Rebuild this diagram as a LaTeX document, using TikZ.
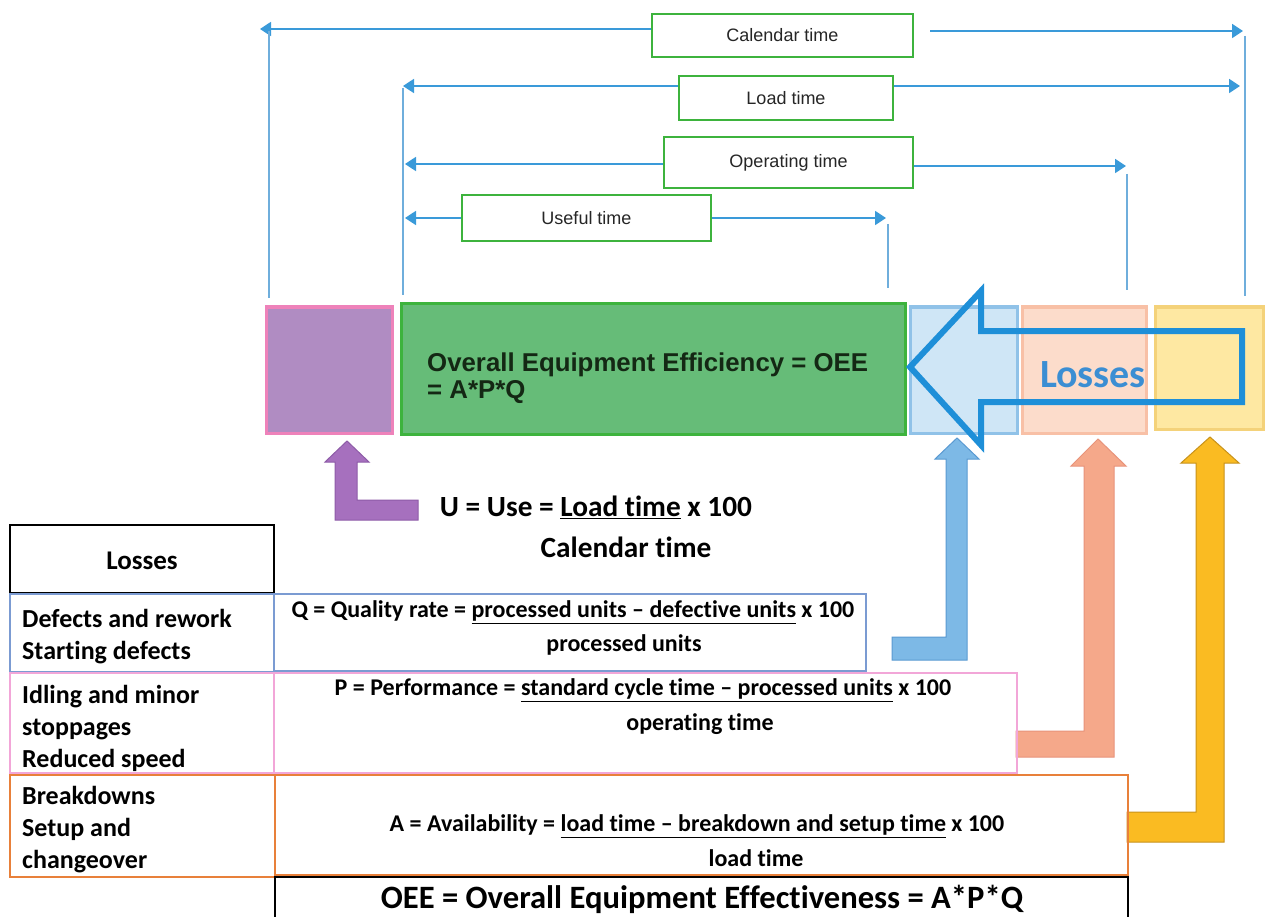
\documentclass[tikz,border=0pt]{standalone}
\usepackage{fontspec}
\setmainfont{Carlito}[Ligatures={NoCommon}]
\newfontfamily\arialf{Liberation Sans}
\usetikzlibrary{arrows.meta}
\definecolor{spanblue}{HTML}{3A9AD9}
\definecolor{vblue}{HTML}{6FAEDC}
\definecolor{gborder}{HTML}{3DB33D}
\definecolor{gfill}{HTML}{66BC78}
\definecolor{pfill}{HTML}{B08CC2}
\definecolor{pborder}{HTML}{EE82BA}
\definecolor{lbfill}{HTML}{CFE6F6}
\definecolor{lbborder}{HTML}{90C2E8}
\definecolor{sfill}{HTML}{FCDCCB}
\definecolor{sborder}{HTML}{F8C0A6}
\definecolor{yfill}{HTML}{FEE8A2}
\definecolor{yborder}{HTML}{F4D27A}
\definecolor{lossblue}{HTML}{1E8FD8}
\definecolor{losstext}{HTML}{3B8ED3}
\definecolor{uarrow}{HTML}{A670BE}
\definecolor{uarrowd}{HTML}{8E5CA8}
\definecolor{barrow}{HTML}{7DB9E6}
\definecolor{barrowd}{HTML}{5A9AD2}
\definecolor{sarrow}{HTML}{F5A88A}
\definecolor{sarrowd}{HTML}{E8937A}
\definecolor{yarrow}{HTML}{FABB22}
\definecolor{yarrowd}{HTML}{C8921A}
\definecolor{qblue}{HTML}{7B9BD2}
\definecolor{ppink}{HTML}{F2A6D8}
\definecolor{aorange}{HTML}{E8803A}
\definecolor{oeetext}{HTML}{142814}
\begin{document}
\begin{tikzpicture}[x=1pt,y=-1pt,
  timebox/.style={draw=gborder,line width=2.5pt,fill=white,inner sep=0pt,font=\arialf\fontsize{18}{21}\selectfont,text=black!85},
  span/.style={draw=spanblue,line width=1.8pt,-{Triangle[length=11pt,width=14pt]}},
  vline/.style={draw=vblue,line width=1.3pt},
  tile/.style={line width=3pt},
  bigarrow/.style={line width=1pt,line join=miter},
  cell/.style={line width=2pt},
  lefttxt/.style={font=\bfseries\fontsize{26}{32}\selectfont,align=left,anchor=west,inner sep=0pt},
  ftxt/.style={font=\bfseries\fontsize{24}{28}\selectfont,inner sep=0pt},
  utxt/.style={font=\bfseries\fontsize{29.3}{32}\selectfont,inner sep=0pt},
]
\useasboundingbox[fill=white] (0,0) rectangle (1266,917);

% ---------- time span boxes ----------
\node[timebox,minimum width=261pt,minimum height=43pt] (cal) at (782.5,35.5) {\raisebox{-3pt}{Calendar time}};
\node[timebox,minimum width=214pt,minimum height=44pt] (load) at (786,98) {Load time};
\node[timebox,minimum width=249pt,minimum height=51pt] (oper) at (788.5,162.5) {Operating time};
\node[timebox,minimum width=249pt,minimum height=46pt] (usef) at (586.5,218) {Useful time};

\coordinate (calL) at (260,29);   \coordinate (calR) at (1243,31);
\coordinate (loadL) at (403,86);  \coordinate (loadR) at (1240,86);
\coordinate (operL) at (405,164); \coordinate (operR) at (1126,166);
\coordinate (usefL) at (405,218); \coordinate (usefR) at (886,218);

\draw[span] (cal.west |- calL) -- (calL);
\draw[span] ([xshift=16pt]cal.east |- calR) -- (calR);
\draw[span] (load.west |- loadL) -- (loadL);
\draw[span] (load.east |- loadR) -- (loadR);
\draw[span] (oper.west |- operL) -- (operL);
\draw[span] (oper.east |- operR) -- (operR);
\draw[span] (usef.west |- usefL) -- (usefL);
\draw[span] (usef.east |- usefR) -- (usefR);

\coordinate (v1t) at (269,31);   \coordinate (v1b) at (269,298);
\coordinate (v2t) at (403,88);   \coordinate (v2b) at (403,295);
\coordinate (v3t) at (1245,36);  \coordinate (v3b) at (1245,296);
\coordinate (v4t) at (1127,174); \coordinate (v4b) at (1127,290);
\coordinate (v5t) at (888,224);  \coordinate (v5b) at (888,288);
\foreach \v in {1,...,5} \draw[vline] (v\v t) -- (v\v b);

% ---------- middle tiles ----------
\draw[tile,draw=pborder,fill=pfill] (266,307) rectangle (392,433);
\draw[tile,draw=gborder,fill=gfill] (401,304) rectangle (905,434);
\draw[tile,draw=lbborder,fill=lbfill] (910,307) rectangle (1017,433);
\draw[tile,draw=sborder,fill=sfill] (1022,307) rectangle (1146,433);
\draw[tile,draw=yborder,fill=yfill] (1155,307) rectangle (1263,429);

\node[anchor=west,align=left,inner sep=0pt,text=oeetext,font=\arialf\bfseries\fontsize{25.8}{27}\selectfont] (oeebox) at (427,378) {Overall Equipment Efficiency = OEE\\= A*P*Q};

% hollow "Losses" arrow
\draw[draw=lossblue,line width=6pt,line join=miter] (910,367) -- (981,291) -- (981,331) -- (1242,331) -- (1242,402) -- (981,402) -- (981,445) -- cycle;
\node[text=losstext,font=\bfseries\fontsize{40}{42}\selectfont,inner sep=0pt] (losslbl) at (1093,375) {Losses};

% ---------- filled L arrows ----------
\draw[bigarrow,fill=uarrow,draw=uarrowd] (347,441) -- (369,462) -- (357,462) -- (357,500) -- (418,500) -- (418,520) -- (335,520) -- (335,462) -- (325,462) -- cycle;
\draw[bigarrow,fill=barrow,draw=barrowd] (957,438) -- (979,459) -- (967,459) -- (967,660) -- (892,660) -- (892,637) -- (946,637) -- (946,459) -- (935,459) -- cycle;
\draw[bigarrow,fill=sarrow,draw=sarrowd] (1098,439) -- (1126,466) -- (1114,466) -- (1114,757) -- (1016,757) -- (1016,731) -- (1084,731) -- (1084,466) -- (1071,466) -- cycle;
\draw[bigarrow,fill=yarrow,draw=yarrowd] (1210,437) -- (1239,463) -- (1224,463) -- (1224,842) -- (1127,842) -- (1127,812) -- (1196,812) -- (1196,463) -- (1181,463) -- cycle;

% ---------- U formula ----------
\node[utxt] (unum) at (596,507) {U = Use = \underline{Load time} x 100};
\node[utxt] (uden) at (626,547) {Calendar time};

% ---------- table ----------
\draw[cell,draw=black] (10,525) rectangle (274,593);
\node[font=\bfseries\fontsize{27}{30}\selectfont] (hdr) at (142,561) {Losses};

\draw[cell,draw=qblue] (274,594) rectangle (866,671);
\draw[cell,draw=qblue] (10,594) rectangle (274,672);
\node[lefttxt] (qloss) at (22,637) {Defects and rework\\Starting defects};
\node[ftxt] (qnum) at (573,612) {Q = Quality rate = \underline{processed units – defective units} x 100};
\node[ftxt] (qden) at (624,645) {processed units};

\draw[cell,draw=ppink] (274,673) rectangle (1017,773);
\draw[cell,draw=ppink] (10,673) rectangle (274,773);
\node[lefttxt] (ploss) at (22,728) {Idling and minor\\stoppages\\Reduced speed};
\node[ftxt] (pnum) at (643,690) {P = Performance = \underline{standard cycle time – processed units} x 100};
\node[ftxt] (pden) at (700,724) {operating time};

\draw[cell,draw=aorange] (275,775) rectangle (1128,875);
\draw[cell,draw=aorange] (10,775) rectangle (275,877);
\node[lefttxt] (aloss) at (22,830) {Breakdowns\\Setup and\\changeover};
\node[ftxt] (anum) at (697,826) {A = Availability = \underline{load time – breakdown and setup time} x 100};
\node[ftxt] (aden) at (756,858) {load time};

\draw[cell,draw=black] (275,917) -- (275,877) -- (1128,877) -- (1128,917);
\node[font=\bfseries\fontsize{32.6}{34}\selectfont] (oee) at (702,899) {OEE = Overall Equipment Effectiveness = A*P*Q};
\end{tikzpicture}
\end{document}
